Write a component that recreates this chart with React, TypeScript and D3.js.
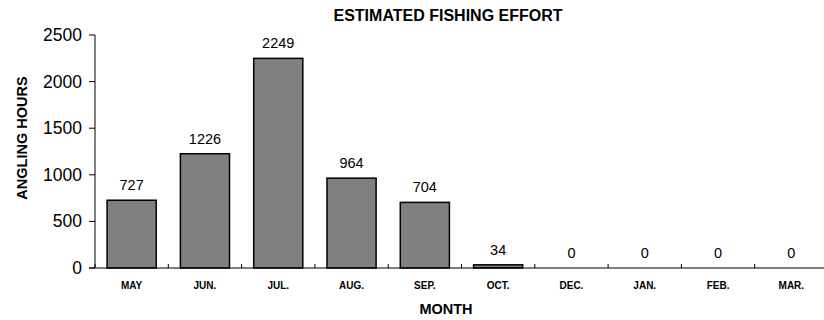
import React from "react";
import * as d3 from "d3";

const months = ["MAY", "JUN.", "JUL.", "AUG.", "SEP.", "OCT.", "DEC.", "JAN.", "FEB.", "MAR."];
const hours = [727, 1226, 2249, 964, 704, 34, 0, 0, 0, 0];
const yTicks = [0, 500, 1000, 1500, 2000, 2500];

export default function App() {
  const W = 824, H = 320;
  const x0 = 95, x1 = 828, yTop = 35, yBot = 268;
  const x = d3.scaleBand<string>().domain(months).range([x0, x1]).paddingInner(0.33).paddingOuter(0.165);
  const xb = d3.scaleBand<string>().domain(months).range([x0, x1]);
  const y = d3.scaleLinear().domain([0, 2500]).range([yBot, yTop]);
  const font = "Arial, 'Liberation Sans', sans-serif";
  return (
    <svg width={W} height={H} style={{ position: "absolute", left: 0, top: 0 }} fontFamily={font}>
      <text x={448} y={21} textAnchor="middle" fontSize={16} fontWeight="bold">ESTIMATED FISHING EFFORT</text>
      <text transform={`translate(27,138) rotate(-90)`} textAnchor="middle" fontSize={14.5} fontWeight="bold">ANGLING HOURS</text>
      {yTicks.map((t) => (
        <g key={t}>
          <line x1={x0 - 6} x2={x0} y1={y(t)} y2={y(t)} stroke="#000" />
          <text x={x0 - 13} y={y(t) + 6} textAnchor="end" fontSize={17.5}>{t}</text>
        </g>
      ))}
      {months.map((m, i) => (
        <g key={m}>
          <rect x={x(m)} y={y(hours[i])} width={x.bandwidth()} height={yBot - y(hours[i])} fill="#808080" stroke="#000" strokeWidth={1.5} />
          <text x={(x(m) as number) + x.bandwidth() / 2} y={y(hours[i]) - 10} textAnchor="middle" fontSize={14.5}>{hours[i]}</text>
          <text x={(xb(m) as number) + xb.bandwidth() / 2} y={289} textAnchor="middle" fontSize={10} fontWeight="bold">{m}</text>
          <line x1={xb(m)} x2={xb(m)} y1={yBot} y2={yBot - 4} stroke="#000" />
        </g>
      ))}
      <line x1={x0} x2={x0} y1={yTop} y2={yBot} stroke="#000" />
      <line x1={x0 - 6} x2={x1} y1={yBot} y2={yBot} stroke="#000" />
      <text x={446} y={314} textAnchor="middle" fontSize={14.5} fontWeight="bold">MONTH</text>
    </svg>
  );
}
